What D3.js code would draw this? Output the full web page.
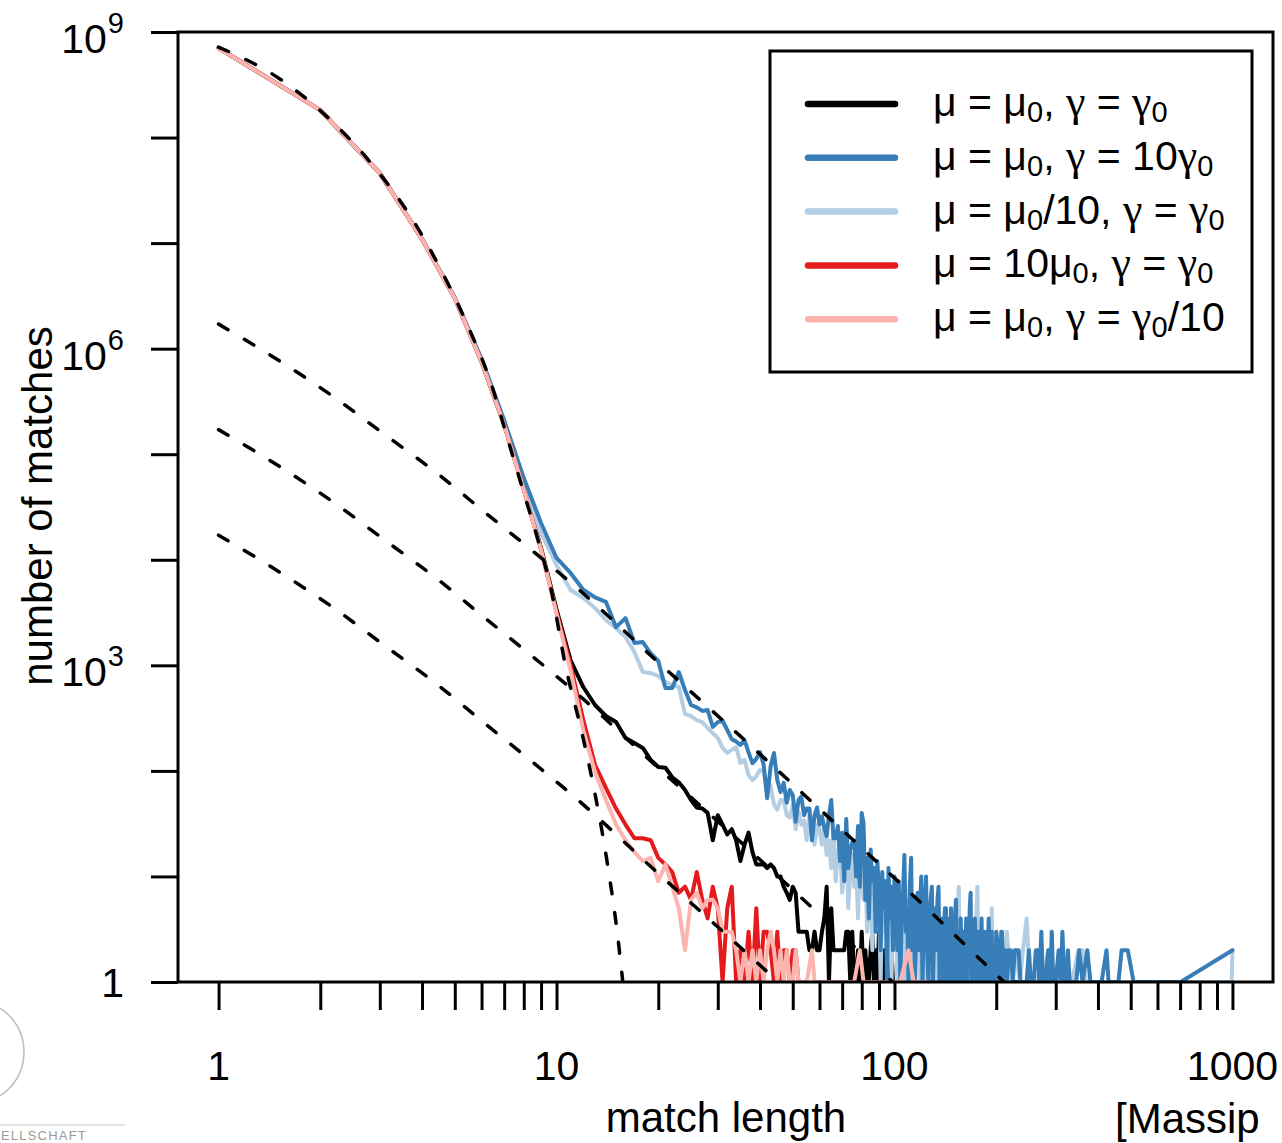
<!DOCTYPE html>
<html>
<head>
<meta charset="utf-8">
<script src="https://cdn.jsdelivr.net/npm/d3@7"></script>
<style>
  body { margin: 0; background: #fff; }
  svg { display: block; }
  text { font-family: "Liberation Sans", Arial, Helvetica, sans-serif; }
</style>
</head>
<body>
<svg id="chart" width="1282" height="1143"></svg>
<script>
// counts per match length, index 0 = length 1
const blackCounts = [
  7.05e8, 1.82e8, 4.6e7, 1.09e7, 3.0e6, 7.5e5, 1.9e5, 4.7e4, 1.3e4, 3.4e3,
  1120, 623, 421, 331, 290, 205, 184, 165, 127, 109,
  107, 87, 78, 66, 53, 45, 44, 40, 22, 38,
  31, 25, 28, 22, 14, 20, 26, 17, 13, 13,
  13, 12, 13, 12, 10, 10, 8, 7, 6, 8,
  7, 3, 3, 3, 3, 2, 2, 3, 2, 2,
  3, 4, 8, 1, 5, 2, 2, 2, 2, 2,
  2, 3, 3, 1, 3, 1, 1, 2, 1, 3,
  1, 2, 1, 1, 2, 3, 1, 2, 1, 3,
  1, 1, 2, 1, 1, 2, 1, 2, 1, 1
];
const blackTail = [[104, 1], [108, 2], [110, 1], [116, 1], [125, 1], [140, 1], [160, 1], [200, 1], [290, 1]];

const blueCounts = [
  7.05e8, 1.82e8, 4.6e7, 1.1e7, 3.05e6, 8.0e5, 2.1e5, 5.95e4, 2.23e4, 1.04e4,
  7500, 5200, 4400, 4000, 2300, 2800, 1630, 1660, 1300, 1100,
  610, 610, 865, 584, 421, 400, 370, 377, 261, 290,
  300, 244, 200, 190, 176, 196, 150, 118, 130, 151,
  115, 55, 110, 148, 82, 63, 77, 50, 66, 59,
  33, 53, 57, 38, 44, 44, 22, 38, 45, 31,
  37, 29, 24, 38, 53, 23, 23, 30, 14, 26,
  9, 35, 12, 18, 21, 22, 10, 30, 8, 40,
  32, 6, 15, 4, 18, 9, 12, 3, 14, 7,
  2, 11, 5, 9, 1, 12, 4, 8, 2, 10,
  6, 2, 9, 1, 4, 7, 16, 3, 5, 1,
  8, 15, 2, 6, 1, 4, 7, 2, 5, 10,
  1, 3, 6, 10, 2, 1, 4, 6, 8, 1,
  3, 5, 2, 6, 8, 1, 2, 4, 1, 3,
  5, 5, 1, 2, 4, 1, 5, 2, 1, 3,
  4, 6, 1, 2, 3, 1, 4, 2, 1, 3,
  1, 2, 4, 1, 3, 2, 5, 7, 1, 2,
  3, 1, 4, 2, 1, 3, 1, 2, 3, 1,
  4, 1, 2, 3, 1, 2, 1, 3, 2, 4,
  1, 2, 1, 3, 1, 2, 1, 2, 1, 3
];
const blueTail = [
  [203, 2], [205, 1], [207, 3], [208, 3], [210, 1], [213, 2], [215, 1], [218, 2], [221, 2], [224, 1],
  [227, 2], [230, 2], [233, 2], [236, 1], [240, 1], [246, 1], [250, 2], [253, 1], [258, 1], [262, 2],
  [266, 2], [268, 1], [272, 3], [275, 1], [280, 1], [285, 2], [289, 1], [292, 3], [295, 1], [300, 1],
  [306, 2], [310, 1], [314, 3], [318, 1], [322, 1], [326, 2], [330, 1], [338, 1], [345, 1], [352, 2],
  [360, 1], [372, 2], [380, 1], [392, 1], [400, 1], [410, 1], [424, 2], [430, 1], [445, 1], [460, 1],
  [470, 2], [490, 2], [510, 1], [600, 1], [703, 1], [1000, 2]
];

const lightBlueCounts = [
  7.05e8, 1.82e8, 4.6e7, 1.1e7, 3.0e6, 7.8e5, 2.0e5, 5.3e4, 1.8e4, 8900,
  5170, 4340, 3490, 2690, 2260, 1850, 1340, 865, 846, 792,
  695, 651, 623, 346, 331, 303, 290, 255, 228, 205,
  165, 148, 158, 168, 119, 127, 91, 82, 89, 102,
  98, 66, 73, 48, 43, 53, 53, 38, 36, 48,
  28, 41, 31, 34, 22, 38, 25, 20, 31, 28,
  20, 30, 16, 22, 12, 26, 9, 17, 20, 7,
  14, 22, 5, 12, 16, 8, 13, 4, 18, 9,
  6, 13, 3, 10, 7, 2, 8, 10, 4, 6,
  1, 7, 3, 9, 5, 2, 6, 1, 6, 3,
  4, 1, 5, 2, 7, 1, 3, 4, 1, 6,
  2, 1, 4, 5, 1, 3, 2, 4, 1, 4,
  2, 1, 3, 4, 1, 2, 3, 1, 3, 1,
  2, 4, 1, 3, 2, 1, 3, 1, 2, 3,
  1, 2, 3, 1, 2, 1, 3, 1, 2, 3,
  1, 3, 1, 5, 8, 1, 2, 3, 1, 2,
  1, 3, 1, 2, 4, 1, 2, 1, 3, 1,
  2, 1, 4, 2, 5, 8, 1, 2, 1, 3,
  1, 2, 1, 2, 1, 3, 1, 2, 1, 2,
  1, 3, 1, 5, 1, 2, 1, 1, 2, 1
];
const lightBlueTail = [
  [205, 2], [210, 1], [215, 3], [220, 1], [228, 2], [235, 1], [240, 2], [246, 4], [252, 1], [262, 1],
  [270, 2], [275, 1], [285, 2], [290, 1], [300, 1], [312, 2], [320, 1], [335, 1], [350, 2], [361, 2],
  [368, 1], [380, 1], [390, 1], [420, 1], [460, 1], [520, 1], [650, 1], [800, 1], [995, 1], [1000, 2]
];

const redCounts = [
  7.05e8, 1.82e8, 4.6e7, 1.09e7, 3.0e6, 7.5e5, 1.9e5, 4.6e4, 1.25e4, 3.2e3,
  1010, 303, 114, 69, 44, 31, 23, 23, 22, 15,
  13, 11, 7, 8, 6, 11, 6, 4, 8, 5,
  1, 5, 8, 1, 2, 1, 3, 1, 5, 1,
  3, 3, 2, 1, 3, 1, 2, 2, 1, 2,
  2, 1
];
const redTail = [];

const pinkCounts = [
  7.05e8, 1.82e8, 4.6e7, 1.09e7, 3.0e6, 7.5e5, 1.9e5, 4.6e4, 1.25e4, 3.1e3,
  900, 244, 98, 53, 31, 22, 17, 14, 15, 9,
  13, 8, 5, 2, 6, 7, 5, 6, 6, 5,
  3, 3, 3, 2, 1, 2, 1, 2, 1, 2,
  1, 2, 3, 2, 1, 2, 1, 2
];
const pinkTail = [
  [49, 1], [50, 1], [51, 2], [52, 1], [55, 1], [57, 2], [58, 1], [62, 1], [66, 1], [70, 1],
  [76, 1], [79, 2], [81, 1], [88, 1], [95, 1], [104, 1], [110, 2], [114, 1], [125, 1]
];

// dashed reference curves
const steepLengths = [1, 1.535, 2.142, 2.888, 3.741, 4.618, 5.549, 6.358, 7.187, 7.904, 8.815, 9.692, 10.59, 11.89, 12.98, 14.09, 15.18, 15.71, 16.2];
const steepValues = [7.2e8, 3.51e8, 1.47e8, 5.26e7, 1.69e7, 5.1e6, 1.47e6, 5.0e5, 1.36e5, 4.9e4, 1.54e4, 4.8e3, 1.05e3, 229, 62, 14.3, 2.67, 1, 0.4];
const powerLengths = [1, 1.52, 2.19, 3.09, 4.38, 6.15, 8.64, 11.5, 19.5, 36.8, 70.1, 113, 211, 300];
const powerTop = [1.71e6, 7.6e5, 3.5e5, 1.55e5, 6.8e4, 2.8e4, 1.16e4, 5.4e3, 1.15e3, 184, 27.5, 6.7, 1.0, 0.35];
const powerMid = [1.71e5, 7.6e4, 3.5e4, 1.55e4, 6.8e3, 2.8e3, 1.16e3, 540, 115, 18.4, 2.75, 0.67, 0.1, 0.035];
const powerLow = [1.71e4, 7.6e3, 3.5e3, 1.55e3, 680, 280, 116, 54, 11.5, 1.84, 0.275, 0.067, 0.01, 0.0035];

const xTicks = [1, 2, 3, 4, 5, 6, 7, 8, 9, 10, 20, 30, 40, 50, 60, 70, 80, 90,
  100, 200, 300, 400, 500, 600, 700, 800, 900, 1000];
const xLabels = [1, 10, 100, 1000];
const yTicks = [1, 10, 1e2, 1e3, 1e4, 1e5, 1e6, 1e7, 1e8, 1e9];
const yLabels = [[1, ""], [1e3, "3"], [1e6, "6"], [1e9, "9"]];

const legendLabels = ["μ = μ_0, γ = γ_0", "μ = μ_0, γ = 10γ_0", "μ = μ_0/10, γ = γ_0", "μ = 10μ_0, γ = γ_0", "μ = μ_0, γ = γ_0/10"];
const legendColors = ["#000000", "#377EB8", "#B3CDE3", "#E41A1C", "#FBB4AE"];

const svg = d3.select("#chart");
const plotLeft = 178, plotRight = 1273, plotTop = 32, plotBottom = 982;

const x = d3.scaleLog().domain([Math.pow(10, -0.12), Math.pow(10, 3.12)]).range([plotLeft, plotRight]);
const y = d3.scaleLog().domain([1, 1e9]).range([plotBottom, plotTop]);

function toPoints(counts, tail) {
  return counts.map((n, i) => [i + 1, n]).filter(d => d[1] > 0).concat(tail);
}

svg.append("defs").append("clipPath").attr("id", "plotclip")
  .append("rect")
  .attr("x", plotLeft + 1.5).attr("y", plotTop + 1.5)
  .attr("width", plotRight - plotLeft - 3).attr("height", plotBottom - plotTop - 2.5);

const plot = svg.append("g").attr("clip-path", "url(#plotclip)");

const line = d3.line().x(d => x(d[0])).y(d => y(d[1]));

// drawing order: light blue sits under the dark blue
const series = [
  [blackCounts, blackTail, legendColors[0]],
  [lightBlueCounts, lightBlueTail, legendColors[2]],
  [blueCounts, blueTail, legendColors[1]],
  [redCounts, redTail, legendColors[3]],
  [pinkCounts, pinkTail, legendColors[4]]
];

plot.selectAll("path.series")
  .data(series)
  .join("path")
  .attr("class", "series")
  .attr("d", d => line(toPoints(d[0], d[1])))
  .attr("fill", "none")
  .attr("stroke", d => d[2])
  .attr("stroke-width", 4)
  .attr("stroke-linejoin", "round")
  .attr("stroke-linecap", "round");

// dashed theory curves
const dashLine = d3.line().curve(d3.curveMonotoneX).x(d => x(d[0])).y(d => y(d[1]));
const dashed = [
  steepLengths.map((l, i) => [l, steepValues[i]]),
  powerLengths.map((l, i) => [l, powerTop[i]]),
  powerLengths.map((l, i) => [l, powerMid[i]]),
  powerLengths.map((l, i) => [l, powerLow[i]])
];
plot.selectAll("path.dashed")
  .data(dashed)
  .join("path")
  .attr("class", "dashed")
  .attr("d", d => dashLine(d))
  .attr("fill", "none")
  .attr("stroke", "#000")
  .attr("stroke-width", 3.5)
  .attr("stroke-dasharray", "11,19")
  .attr("stroke-linecap", "round");

// axes
const xAxis = svg.append("g")
  .attr("transform", `translate(0,${plotBottom})`)
  .call(d3.axisBottom(x).tickValues(xTicks).tickSize(28).tickFormat(() => ""));
xAxis.select(".domain").remove();
xAxis.selectAll(".tick line").attr("stroke", "#000").attr("stroke-width", 3);

const yAxis = svg.append("g")
  .attr("transform", `translate(${plotLeft},0)`)
  .call(d3.axisLeft(y).tickValues(yTicks).tickSize(27).tickFormat(() => ""));
yAxis.select(".domain").remove();
yAxis.selectAll(".tick line").attr("stroke", "#000").attr("stroke-width", 3);

svg.append("rect")
  .attr("x", plotLeft).attr("y", plotTop)
  .attr("width", plotRight - plotLeft).attr("height", plotBottom - plotTop)
  .attr("fill", "none").attr("stroke", "#000").attr("stroke-width", 3);

svg.append("g").selectAll("text")
  .data(xLabels)
  .join("text")
  .attr("x", d => x(d))
  .attr("y", 1080)
  .attr("text-anchor", "middle")
  .attr("font-size", 41)
  .text(d => d);

svg.append("g").selectAll("text")
  .data(yLabels)
  .join("text")
  .attr("x", 124)
  .attr("y", d => d[1] === "" ? y(d[0]) + 15 : y(d[0]) + 21)
  .attr("text-anchor", "end")
  .attr("font-size", 41)
  .each(function(d) {
    const t = d3.select(this);
    if (d[1] === "") {
      t.text("1");
    } else {
      t.append("tspan").text("10");
      t.append("tspan").attr("dx", 1).attr("dy", -20).attr("font-size", 29).text(d[1]);
    }
  });

svg.append("text")
  .attr("transform", "translate(52,506) rotate(-90)")
  .attr("text-anchor", "middle")
  .attr("font-size", 42)
  .text("number of matches");

svg.append("text")
  .attr("x", 726).attr("y", 1132)
  .attr("text-anchor", "middle")
  .attr("font-size", 42)
  .text("match length");

// legend
const legend = svg.append("g");
legend.append("rect")
  .attr("x", 770).attr("y", 51).attr("width", 482).attr("height", 321)
  .attr("fill", "#fff").attr("stroke", "#000").attr("stroke-width", 3);

const rowY = i => 104 + i * 53.8;
legend.selectAll("line")
  .data(legendColors)
  .join("line")
  .attr("x1", 808).attr("x2", 895)
  .attr("y1", (d, i) => rowY(i)).attr("y2", (d, i) => rowY(i))
  .attr("stroke", d => d)
  .attr("stroke-width", 6.5)
  .attr("stroke-linecap", "round");

// plain text with γ in a serif face (like the symbol font) and subscript zeros
function addRun(t, s, dy) {
  const bits = s.split(/(γ)/);
  bits.forEach((b, j) => {
    if (!b) return;
    const sp = t.append("tspan").text(b);
    if (b === "γ") sp.attr("font-family", "Liberation Serif, Times New Roman, serif").attr("font-size", 44);
    if (dy !== null) { sp.attr("dy", dy); dy = null; }
  });
  return dy;
}

legend.selectAll("text")
  .data(legendLabels)
  .join("text")
  .attr("x", 933)
  .attr("y", (d, i) => rowY(i) + 12)
  .attr("font-size", 41)
  .each(function(d) {
    const t = d3.select(this);
    const parts = d.split("_0");
    let shift = 0;
    parts.forEach((p, k) => {
      if (k > 0) {
        t.append("tspan").attr("font-size", 29).attr("dy", 6 - shift).text("0");
        shift = 6;
      }
      if (p) {
        addRun(t, p, -shift);
        shift = 0;
      }
    });
  });

// bits of the page around the figure
svg.append("text")
  .attr("x", 1115).attr("y", 1133)
  .attr("font-size", 42)
  .text("[Massip");

svg.append("circle")
  .attr("cx", -28).attr("cy", 1052).attr("r", 52)
  .attr("fill", "none").attr("stroke", "#bbb").attr("stroke-width", 1.5);
svg.append("line")
  .attr("x1", 0).attr("x2", 125).attr("y1", 1125).attr("y2", 1125)
  .attr("stroke", "#ccc").attr("stroke-width", 1);
svg.append("text")
  .attr("x", 1).attr("y", 1140)
  .attr("font-family", "Liberation Serif, serif")
  .attr("font-size", 13)
  .attr("letter-spacing", 1.2)
  .attr("fill", "#999")
  .text("ELLSCHAFT");
</script>
</body>
</html>
